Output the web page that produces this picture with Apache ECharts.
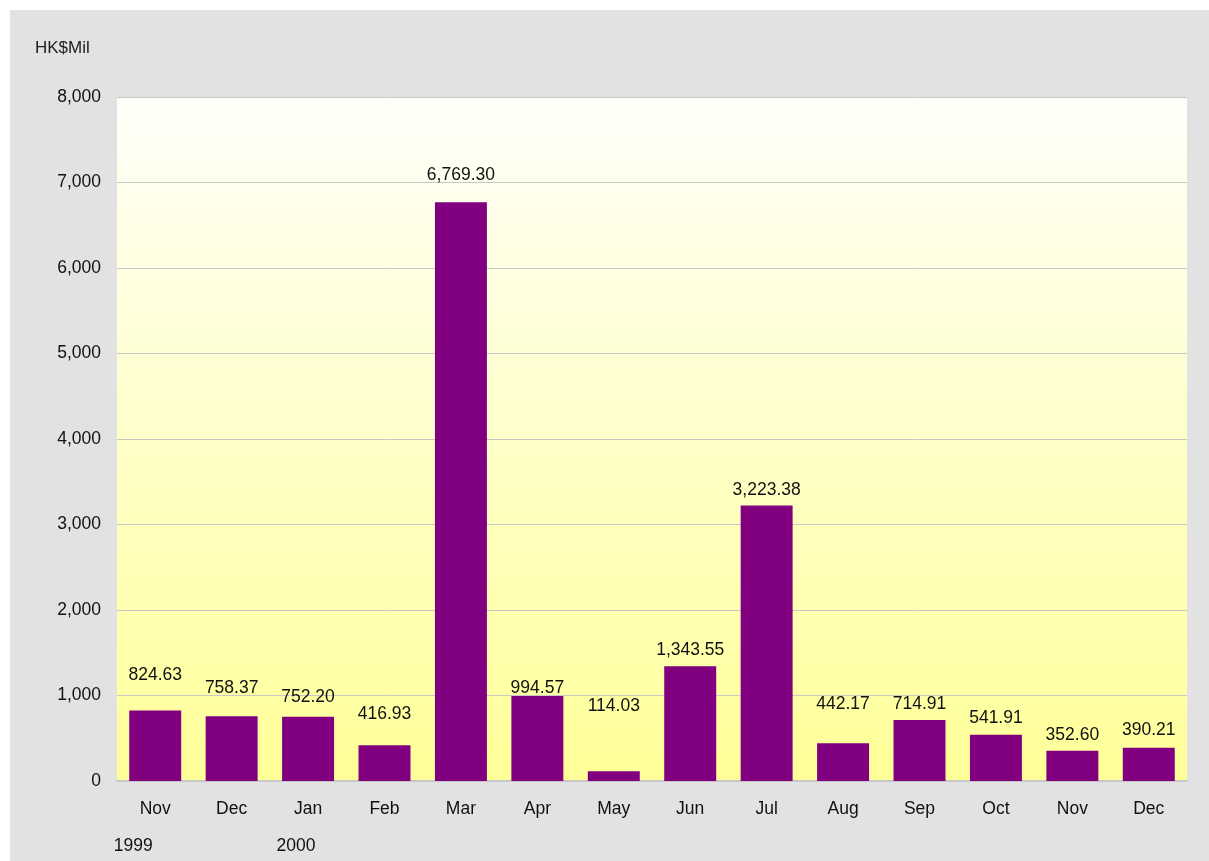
<!DOCTYPE html>
<html>
<head>
<meta charset="utf-8">
<script src="https://cdn.jsdelivr.net/npm/echarts@6/dist/echarts.min.js"></script>
<style>
body{margin:0;background:#fff;}
#chart{position:absolute;left:10px;top:10px;width:1199px;height:851px;}
</style>
</head>
<body>
<div id="chart"></div>
<script>
//月份
var months = ['Nov', 'Dec', 'Jan', 'Feb', 'Mar', 'Apr', 'May', 'Jun', 'Jul', 'Aug', 'Sep', 'Oct', 'Nov', 'Dec'];
//年份，只在部分月份下显示
var years = ['1999', '', '2000', '', '', '', '', '', '', '', '', '', '', ''];
//金额 HK$Mil
var amounts = [824.63, 758.37, 752.20, 416.93, 6769.30, 994.57, 114.03, 1343.55, 3223.38, 442.17, 714.91, 541.91, 352.60, 390.21];
var yTicks = [0, 8000, 1000];

//标签离柱顶的高度(像素)，照着原图调
var labelLift = [21, 14, 6, 17, 13, -6, 51, 2, 1, 25, 2, 2, 2, 3];
var yearShift = [44, 0, 24];
var fs = 17.5;

var chart = echarts.init(document.getElementById('chart'));

function fmt(v, d) {
	return v.toLocaleString('en-US', {minimumFractionDigits: d, maximumFractionDigits: d});
}

var barData = [];
for (var i = 0; i < amounts.length; i++) {
	barData.push({
		value: amounts[i],
		label: {offset: [0, -labelLift[i]]}
	});
}

var option = {
	backgroundColor: '#e2e2e2',
	animation: false,
	textStyle: {fontFamily: 'Liberation Sans, Arial, sans-serif'},
	graphic: [{
		type: 'text',
		left: 25,
		top: 30,
		style: {text: 'HK$Mil', fontSize: 17, fill: '#222', fontFamily: 'Liberation Sans, Arial, sans-serif'}
	}],
	grid: {
		left: 107,
		top: 87,
		right: 22,
		bottom: 80,
		show: true,
		borderWidth: 0,
		backgroundColor: {
			type: 'linear', x: 0, y: 0, x2: 0, y2: 1,
			colorStops: [{offset: 0, color: '#fffffa'}, {offset: 1, color: '#ffff98'}]
		}
	},
	xAxis: {
		type: 'category',
		data: months,
		axisLine: {lineStyle: {color: '#c8c8c8', width: 2}},
		axisTick: {show: false},
		axisLabel: {
			margin: 10,
			interval: 0,
			formatter: function (v, idx) {
				var y = years[idx];
				if (y) {
					return '{m|' + v + '}\n{y' + idx + '|' + y + '}';
				}
				return '{m|' + v + '}';
			},
			rich: {
				m: {fontSize: fs, color: '#111', lineHeight: 37},
				y0: {fontSize: fs, color: '#111', lineHeight: 37, padding: [0, yearShift[0], 0, 0]},
				y2: {fontSize: fs, color: '#111', lineHeight: 37, padding: [0, yearShift[2], 0, 0]}
			},
			verticalAlign: 'top'
		}
	},
	yAxis: {
		type: 'value',
		min: yTicks[0],
		max: yTicks[1],
		interval: yTicks[2],
		axisLine: {show: false},
		axisTick: {show: false},
		splitLine: {lineStyle: {color: '#c8c8c8', width: 1}},
		axisLabel: {
			margin: 16,
			fontSize: fs,
			color: '#111',
			formatter: function (v) { return fmt(v, 0); }
		}
	},
	series: [{
		type: 'bar',
		data: barData,
		barCategoryGap: '32%',
		itemStyle: {color: '#800080'},
		label: {
			show: true,
			position: 'top',
			distance: 5,
			fontSize: fs,
			color: '#111',
			formatter: function (p) { return fmt(p.value, 2); }
		}
	}]
};
chart.setOption(option);
</script>
</body>
</html>
